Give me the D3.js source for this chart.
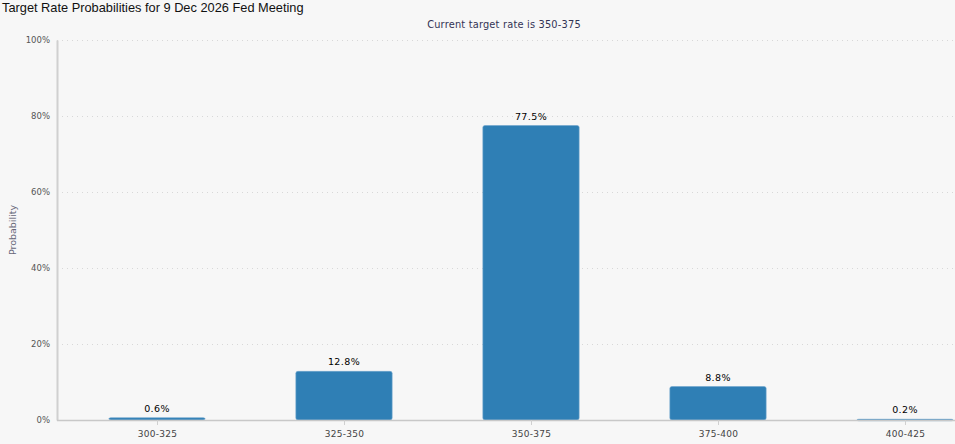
<!DOCTYPE html>
<html>
<head>
<meta charset="utf-8">
<script src="https://cdn.jsdelivr.net/npm/d3@7"></script>
<style>
  body { margin: 0; background: #f7f7f7; }
  svg { display: block; }
</style>
</head>
<body>
<svg id="chart" width="955" height="444"></svg>
<script>
const categories = ["300-325", "325-350", "350-375", "375-400", "400-425"]
const probabilities = [0.6, 12.8, 77.5, 8.8, 0.2]
const yTicks = [0, 20, 40, 60, 80, 100]

const titleText = "Target Rate Probabilities for 9 Dec 2026 Fed Meeting"
const subtitleText = "Current target rate is 350-375"

const svg = d3.select("#chart")
const width = 955
const height = 444

svg.append("rect").attr("width", width).attr("height", height).attr("fill", "#f7f7f7")

const plotLeft = 57
const plotTop = 40
const plotBottom = 420

// category centres are spaced ~187px apart, first at 157
const x = d3.scalePoint().domain(categories).range([157, 905])
const barWidth = x.step() * 0.515
const y = d3.scaleLinear().domain([0, 100]).range([plotBottom, plotTop])

// gridlines
svg.append("g")
	.selectAll("line")
	.data(yTicks)
	.join("line")
	.attr("x1", plotLeft)
	.attr("x2", width)
	.attr("y1", d => Math.round(y(d)) + 0.5)
	.attr("y2", d => Math.round(y(d)) + 0.5)
	.attr("stroke", "#d8d8d8")
	.attr("stroke-dasharray", "1,4")

// y axis
const yAxis = svg.append("g")
	.attr("transform", `translate(${plotLeft},0)`)
	.call(d3.axisLeft(y).tickValues(yTicks).tickFormat(d => d + "%").tickSize(0).tickPadding(7))
yAxis.select(".domain").attr("stroke", "#d0d0d0").attr("stroke-width", 2)
yAxis.selectAll("text")
	.attr("fill", "#555")
	.attr("font-family", "DejaVu Sans, sans-serif")
	.attr("font-size", 8.5)

// bars
svg.append("g")
	.selectAll("rect")
	.data(probabilities)
	.join("rect")
	.attr("x", (d, i) => x(categories[i]) - barWidth / 2)
	.attr("y", d => y(d))
	.attr("width", barWidth)
	.attr("height", d => Math.max(plotBottom - y(d), 1.5))
	.attr("rx", 2)
	.attr("fill", "#2f7fb5")
	.attr("stroke", "#6fa5cc")
	.attr("stroke-width", 0.6)

// x axis
const xAxis = svg.append("g")
	.attr("transform", `translate(0,${plotBottom})`)
	.call(d3.axisBottom(x).tickSize(5).tickPadding(6))
xAxis.select(".domain").attr("d", `M${plotLeft},0.5H${width}`).attr("stroke", "#c8c8c8").attr("stroke-width", 1.5)
xAxis.selectAll(".tick line").attr("stroke", "#d0d0d0")
xAxis.selectAll("text")
	.attr("fill", "#444")
	.attr("font-family", "DejaVu Sans, sans-serif")
	.attr("font-size", 9)
	.attr("letter-spacing", 0.3)

// data labels
svg.append("g")
	.selectAll("text")
	.data(probabilities)
	.join("text")
	.attr("x", (d, i) => x(categories[i]))
	.attr("y", d => y(d) - 6)
	.attr("text-anchor", "middle")
	.attr("font-family", "DejaVu Sans, sans-serif")
	.attr("font-size", 9.5)
	.attr("letter-spacing", 0.4)
	.attr("fill", "#000")
	.text(d => d.toFixed(1) + "%")

// titles
svg.append("text")
	.attr("x", 2)
	.attr("y", 12)
	.attr("font-family", "Liberation Sans, Arial, sans-serif")
	.attr("font-size", 12.8)
	.attr("fill", "#111")
	.text(titleText)

svg.append("text")
	.attr("x", 504)
	.attr("y", 28)
	.attr("text-anchor", "middle")
	.attr("font-family", "DejaVu Sans, sans-serif")
	.attr("font-size", 9.8)
	.attr("letter-spacing", 0.2)
	.attr("fill", "#333355")
	.text(subtitleText)

svg.append("text")
	.attr("transform", `translate(16,${(plotTop + plotBottom) / 2}) rotate(-90)`)
	.attr("text-anchor", "middle")
	.attr("font-family", "DejaVu Sans, sans-serif")
	.attr("font-size", 9.5)
	.attr("fill", "#666677")
	.text("Probability")
</script>
</body>
</html>
